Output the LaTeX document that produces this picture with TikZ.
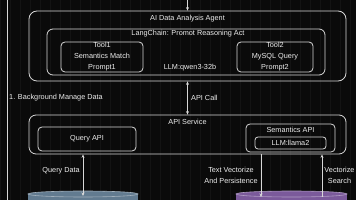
\documentclass[tikz,border=0pt]{standalone}
\usepackage{fontspec}
\setmainfont{Liberation Sans}
\usetikzlibrary{arrows.meta,positioning}
\definecolor{bg}{HTML}{0A0A0A}
\definecolor{gridc}{HTML}{131313}
\definecolor{edge}{HTML}{D8D8D8}
\definecolor{ink}{HTML}{EDEDED}
\definecolor{dbblue}{HTML}{627B90}
\definecolor{dbpurple}{HTML}{7B5A9B}

\begin{document}
\begin{tikzpicture}[
  x=1pt,y=-1pt,
  font=\fontsize{7.3}{11}\selectfont,
  box/.style={draw=edge,line width=0.8pt,inner sep=0pt,text=ink,align=center},
  lbl/.style={text=ink,inner sep=0pt,align=center},
  link/.style={edge,line width=0.8pt,-{Stealth[length=3.5pt,width=3pt]}},
  biarrow/.style={edge,line width=0.8pt,{Stealth[length=3.5pt,width=3pt]}-{Stealth[length=3.5pt,width=3pt]}},
]
  % Background and grid
  \useasboundingbox (0,0) rectangle (356,200);
  \clip (0,0) rectangle (356,200);
  \fill[bg] (0,0) rectangle (356,200);
  \draw[gridc,line width=0.2pt,step=10] (0,0) grid (356,200);

  % Left rail
  \coordinate (railtop) at (7,0);
  \coordinate (railbot) at (7,200);
  \draw[edge,line width=0.8pt] (railtop) -- (railbot);

  % Agent box
  \node[box,rounded corners=8pt,minimum width=317,minimum height=70] (agent) at (187.5,46) {};
  \node[lbl] (agenttitle) at (187.5,19) {AI Data Analysis Agent};
  \node[box,rounded corners=6pt,minimum width=278,minimum height=46] (lang) at (186,52) {};
  \node[lbl] (langtitle) at (188,34) {LangChain: Promot Reasoning Act};
  \node[box,rounded corners=4pt,minimum width=82,minimum height=30] (tool1) at (102,57) {Tool1\\Semantics Match\\Prompt1};
  \node[box,rounded corners=4pt,minimum width=76,minimum height=30] (tool2) at (275,57) {Tool2\\MySQL Query\\Prompt2};
  \node[lbl] (qwen) at (190,68) {LLM:qwen3-32b};

  % Entry arrow
  \coordinate (entry) at (187.5,0);
  \draw[link] (entry) -- (agent.north);

  \node[lbl,anchor=west] (bgdata) at (9,98) {1. Background Manage Data};

  % API service
  \node[box,rounded corners=7pt,minimum width=317,minimum height=39] (api) at (187.5,134.5) {};
  \node[lbl] (apititle) at (187.5,122) {API Service};
  \node[box,rounded corners=4pt,minimum width=98,minimum height=24] (query) at (87,139) {Query API};
  \node[box,rounded corners=4pt,minimum width=89,minimum height=28] (sem) at (290.5,138) {};
  \node[lbl] (semtitle) at (290.5,130) {Semantics API};
  \node[box,rounded corners=3pt,minimum width=71,minimum height=12] (llama) at (290.5,143) {LLM:llama2};

  \draw[biarrow] (agent.south) -- (api.north);
  \node[lbl,anchor=west] (apicall) at (191,98) {API Call};

  % Databases
  \coordinate (db1) at (83,194);
  \coordinate (db2) at (291.5,194);
  \fill[dbblue] (28,194) rectangle (138,210);
  \filldraw[fill=dbblue,draw=dbblue!60!white,line width=0.6pt] (db1) ellipse [x radius=55,y radius=3];
  \fill[dbpurple] (236,194) rectangle (347,210);
  \filldraw[fill=dbpurple,draw=dbpurple!60!white,line width=0.6pt] (db2) ellipse [x radius=55.5,y radius=3];

  % Data links
  \draw[biarrow] (api.south -| db1) -- ([yshift=-2]db1);
  \node[lbl,anchor=east] (qdata) at (80,171) {Query Data};
  \coordinate (vecin) at (261,194);
  \coordinate (vecout) at (322,194);
  \draw[link] (api.south -| vecin) -- ([yshift=-3]vecin);
  \node[lbl] (vectext) at (231,175.5) {Text Vectorize\\And Persistence};
  \draw[link] ([yshift=-3]vecout) -- (api.south -| vecout);
  \node[lbl] (vecsearch) at (339.5,175.5) {Vectorize\\Search};
\end{tikzpicture}
\end{document}
